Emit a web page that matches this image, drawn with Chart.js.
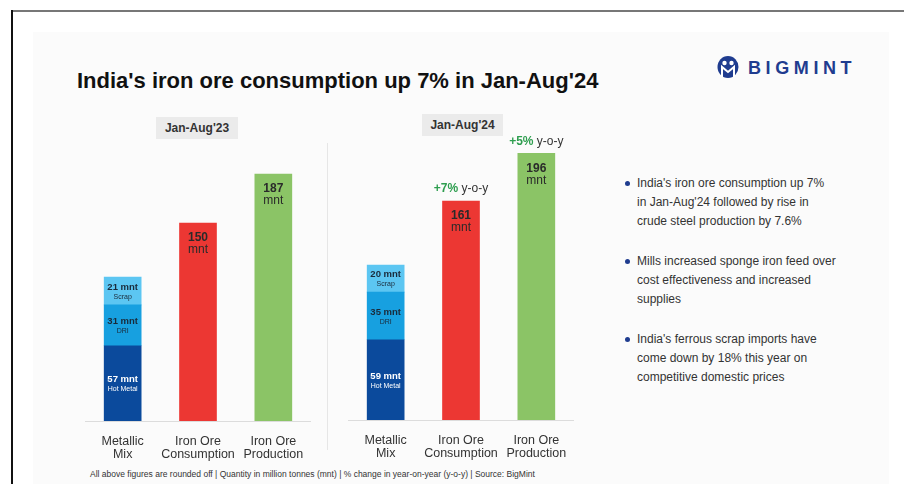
<!DOCTYPE html>
<html>
<head>
<meta charset="utf-8">
<script src="https://cdn.jsdelivr.net/npm/chart.js@4.4.1/dist/chart.umd.min.js"></script>
<style>
  html, body { margin: 0; padding: 0; background: #fff; }
  body { width: 904px; height: 484px; position: relative; overflow: hidden; font-family: "Liberation Sans", Arial, sans-serif; color: #333; }
  .frame-top { position: absolute; left: 11px; top: 10px; width: 893px; height: 2px; background: #777; }
  .frame-left { position: absolute; left: 11px; top: 10px; width: 2px; height: 474px; background: #111; }
  .panel { position: absolute; left: 33px; top: 32px; width: 856px; height: 452px; background: #fbfbfb; }
  .title { position: absolute; left: 77px; top: 68px; font-size: 22px; font-weight: bold; color: #111; white-space: nowrap; }
  .logo { position: absolute; left: 717px; top: 55px; display: flex; align-items: center; }
  .logo span { font-size: 18px; font-weight: bold; color: #1f3c8f; letter-spacing: 4.6px; margin-left: 9px; }
  .period { position: absolute; background: #ebebeb; font-size: 12px; font-weight: bold; color: #333; text-align: center; line-height: 22px; height: 22px; }
  .sep { position: absolute; left: 327px; top: 143px; width: 1px; height: 307px; background: #e6e6e6; }
  canvas { position: absolute; }
  .notes { position: absolute; left: 625px; top: 174px; margin: 0; padding: 0; list-style: none; }
  .notes li { position: relative; padding-left: 12px; font-size: 12px; line-height: 19px; margin-bottom: 21px; color: #333; white-space: nowrap; }
  .notes li::before { content: ""; position: absolute; left: 0; top: 7px; width: 5px; height: 5px; border-radius: 50%; background: #1f3c8f; }
  .footer { position: absolute; left: 90px; top: 469px; font-size: 8.5px; color: #333; white-space: nowrap; }
</style>
</head>
<body>
<div class="frame-top"></div>
<div class="frame-left"></div>
<div class="panel"></div>

<div class="title">India's iron ore consumption up 7% in Jan-Aug'24</div>
<div class="logo">
  <svg width="22" height="26" viewBox="0 0 22 26">
    <ellipse cx="11" cy="12" rx="10.5" ry="11" fill="#1f3c8f"/>
    <circle cx="7.5" cy="8" r="2.2" fill="#fff"/>
    <circle cx="14.5" cy="8" r="2.2" fill="#fff"/>
    <path d="M5 22 L5 12 L11 17 L17 12 L17 22" stroke="#fff" stroke-width="2" fill="none"/>
  </svg>
  <span>BIGMINT</span>
</div>

<div class="period" id="p0" style="left:156px; top:117px; width:82px;"></div>
<div class="period" id="p1" style="left:422px; top:114px; width:81px;"></div>
<div class="sep"></div>

<canvas id="c0" width="226" height="361" style="left:85px; top:100px; width:226px; height:361px;"></canvas>
<canvas id="c1" width="226" height="360" style="left:348px; top:100px; width:226px; height:360px;"></canvas>

<ul class="notes">
  <li>India's iron ore consumption up 7%<br>in Jan-Aug'24 followed by rise in<br>crude steel production by 7.6%</li>
  <li>Mills increased sponge iron feed over<br>cost effectiveness and increased<br>supplies</li>
  <li>India's ferrous scrap imports have<br>come down by 18% this year on<br>competitive domestic prices</li>
</ul>

<div class="footer">All above figures are rounded off | Quantity in million tonnes (mnt) | % change in year-on-year (y-o-y) | Source: BigMint</div>

<script>
// periods: index 0 = Jan-Aug'23, index 1 = Jan-Aug'24
const periods = ["Jan-Aug'23", "Jan-Aug'24"];
const categories = [["Metallic", "Mix"], ["Iron Ore", "Consumption"], ["Iron Ore", "Production"]];

// metallic mix parts (mnt)
const hotMetal = [57, 59];
const dri = [31, 35];
const scrap = [21, 20];

// iron ore (mnt)
const consumption = [150, 161];
const production = [187, 196];

// y-o-y change
const consumptionYoy = [null, "+7%"];
const productionYoy = [null, "+5%"];

const yMax = [200, 200];

const FONT = '"Liberation Sans", Arial, sans-serif';

const barLabels = {
  id: "barLabels",
  afterDatasetsDraw(chart) {
    const ctx = chart.ctx;
    const p = chart.options.period;
    ctx.save();
    ctx.textAlign = "center";
    ctx.textBaseline = "middle";
    chart.data.datasets.forEach((ds, i) => {
      const meta = chart.getDatasetMeta(i);
      meta.data.forEach((bar, j) => {
        const v = ds.data[j];
        if (v == null) return;
        if (ds.kind === "part") {
          const cy = (bar.y + bar.base) / 2;
          ctx.fillStyle = ds.textColor;
          ctx.font = "bold 9.5px " + FONT;
          ctx.fillText(v + " mnt", bar.x, cy - 4);
          ctx.font = "7px " + FONT;
          ctx.fillText(ds.label, bar.x, cy + 6);
        } else {
          ctx.fillStyle = "#2a2a2a";
          ctx.font = "bold 12px " + FONT;
          ctx.fillText(v, bar.x, bar.y + 15);
          ctx.font = "12px " + FONT;
          ctx.fillText("mnt", bar.x, bar.y + 27);
          const yoy = ds.yoy[p];
          if (yoy) {
            ctx.font = "bold 12px " + FONT;
            const a = ctx.measureText(yoy).width;
            ctx.font = "12px " + FONT;
            const b = ctx.measureText(" y-o-y").width;
            const x0 = bar.x - (a + b) / 2;
            ctx.textAlign = "left";
            ctx.font = "bold 12px " + FONT;
            ctx.fillStyle = "#2e9e4f";
            ctx.fillText(yoy, x0, bar.y - 12);
            ctx.font = "12px " + FONT;
            ctx.fillStyle = "#333";
            ctx.fillText(" y-o-y", x0 + a, bar.y - 12);
            ctx.textAlign = "center";
          }
        }
      });
    });
    ctx.restore();
  }
};

function makeChart(id, p, padTop) {
  document.getElementById("p" + p).textContent = periods[p];
  new Chart(document.getElementById(id), {
    type: "bar",
    data: {
      labels: categories,
      datasets: [
        { label: "Hot Metal", kind: "part", textColor: "#fff", data: [hotMetal[p], null, null], backgroundColor: "#0b4a9c" },
        { label: "DRI", kind: "part", textColor: "#1a2a3a", data: [dri[p], null, null], backgroundColor: "#17a0e0" },
        { label: "Scrap", kind: "part", textColor: "#1a2a3a", data: [scrap[p], null, null], backgroundColor: "#5cc6f2" },
        { label: "Consumption", kind: "total", yoy: consumptionYoy, data: [null, consumption[p], null], backgroundColor: "#ec3733" },
        { label: "Production", kind: "total", yoy: productionYoy, data: [null, null, production[p]], backgroundColor: "#8bc466" }
      ]
    },
    options: {
      period: p,
      responsive: false,
      animation: false,
      events: [],
      layout: { padding: { top: padTop, left: 0, right: 0, bottom: 0 } },
      datasets: { bar: { barThickness: 37, borderWidth: 0 } },
      plugins: { legend: { display: false }, tooltip: { enabled: false } },
      scales: {
        x: {
          stacked: true,
          grid: { display: false },
          border: { display: true, color: "#dcdcdc", width: 1 },
          ticks: { color: "#333", font: { family: FONT, size: 12.5, lineHeight: 1.05 }, padding: 6, maxRotation: 0, autoSkip: false },
          afterFit(axis) { axis.height = 40; }
        },
        y: { stacked: true, display: false, min: 0, max: yMax[p] }
      }
    },
    plugins: [barLabels]
  });
}

makeChart("c0", 0, 57);
makeChart("c1", 1, 48);
</script>
</body>
</html>
